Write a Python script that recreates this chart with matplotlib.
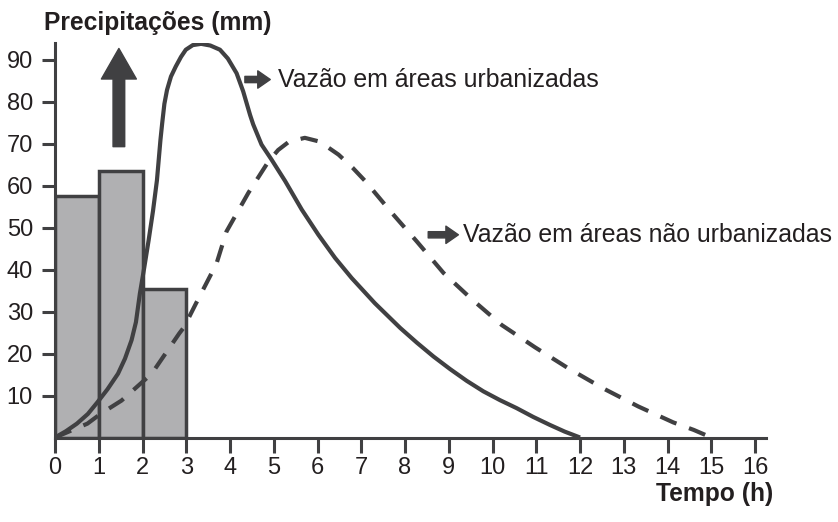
import numpy as np
import matplotlib.pyplot as plt

plt.rcParams['font.family'] = ['Liberation Sans', 'DejaVu Sans']

# Precipitation bars (mm), one per hour
barStart = [0, 1, 2]
barHeight = [57.5, 63.5, 35.5]

# Discharge in urbanised areas (solid)
tUrban = [0, 0.25, 0.5, 0.75, 0.97, 1.2, 1.44, 1.6, 1.75, 1.85, 1.94, 2.04, 2.14,
          2.24, 2.33, 2.41, 2.45, 2.5, 2.56, 2.65, 2.76, 2.88, 2.99, 3.15, 3.34,
          3.55, 3.77, 3.95, 4.15, 4.3, 4.46, 4.53, 4.72, 4.95, 5.26, 5.64, 6.02,
          6.4, 6.78, 7.31, 7.89, 8.27, 8.65, 9.03, 9.41, 9.79, 10.17, 10.55,
          10.93, 11.31, 11.65, 12.0]
qUrban = [0, 1.5, 3.3, 5.6, 8.4, 11.5, 15.2, 18.8, 23.2, 27.5, 34.3, 40.5, 47,
          54, 61.3, 70.9, 74.9, 79.5, 82.8, 86, 88.4, 90.7, 92.4, 93.5, 93.8,
          93.4, 92.4, 90.3, 86.8, 82.5, 76.8, 74.6, 69.8, 66.2, 61.1, 54.3, 48.3,
          42.8, 38.0, 32.0, 26.1, 22.6, 19.3, 16.3, 13.5, 11.0, 8.9, 7.0,
          4.9, 3.0, 1.4, 0]

# Discharge in non-urbanised areas (dashed)
tRural = [0, 0.74, 1.05, 1.52, 2.21, 2.84, 2.95, 3.22, 3.69, 3.92, 4.42, 4.88,
          5.1, 5.35, 5.71, 6.05, 6.48, 6.8, 7.09, 7.7, 8.27, 8.88, 9.52, 10.21,
          10.97, 11.73, 12.53, 13.33, 14.13, 14.6, 15.0]
qRural = [0, 3.3, 5.7, 8.8, 15.2, 24.8, 26.3, 31.9, 41.4, 49.1, 58.3, 65.8,
          68.5, 70.5, 71.4, 70.5, 67.4, 64.3, 61.1, 53.5, 46.7, 39.2, 33.0, 26.8,
          21.5, 16.5, 11.7, 7.4, 3.6, 1.8, 0]

xTicks = list(range(0, 17))
yTicks = list(range(10, 100, 10))

dark = '#404042'
txt = '#231f20'

fig = plt.figure(figsize=(8.38, 5.22), dpi=100)
ax = fig.add_axes([55 / 838, 1 - 437.5 / 522, (766 - 55) / 838, (437.5 - 43) / 522])

ax.bar(barStart, barHeight, width=1, align='edge', color='#b0b0b2',
       edgecolor=dark, linewidth=2.5, zorder=2)
ax.plot(tUrban, qUrban, color=dark, linewidth=3, zorder=3,
        solid_joinstyle='round', solid_capstyle='butt')
ax.plot(tRural, qRural, color=dark, linewidth=3, dashes=(4.2, 3.2), zorder=3,
        dash_joinstyle='round')

ax.set_xlim(0, 16.25)
ax.set_ylim(0, 94)
ax.set_xticks(xTicks)
ax.set_yticks(yTicks)
for s in ['top', 'right']:
    ax.spines[s].set_visible(False)
for s in ['left', 'bottom']:
    ax.spines[s].set_linewidth(2.2)
    ax.spines[s].set_color(dark)
ax.tick_params(axis='x', length=10.8, width=2.2, color=dark, pad=3.5,
               labelsize=17, labelcolor=txt)
ax.tick_params(axis='y', length=9.4, width=2.2, color=dark, pad=6.5,
               labelsize=17, labelcolor=txt)

# big upward arrow over the bars
ax.annotate('', xy=(1.46, 92.7), xytext=(1.46, 69.3),
            arrowprops=dict(arrowstyle='simple,head_length=1.1,head_width=1.26,tail_width=0.42',
                            color=dark, shrinkA=0, shrinkB=0, mutation_scale=20))

# small arrows + labels
sArrow = 'simple,head_length=0.9,head_width=1.25,tail_width=0.45'
ax.annotate('', xy=(4.92, 85.3), xytext=(4.34, 85.3),
            arrowprops=dict(arrowstyle=sArrow, color=dark, shrinkA=0, shrinkB=0,
                            mutation_scale=10))
ax.text(5.1, 85.3, 'Vazão em áreas urbanizadas', fontsize=17.9, color=txt,
        va='center', ha='left')
ax.annotate('', xy=(9.22, 48.3), xytext=(8.53, 48.3),
            arrowprops=dict(arrowstyle=sArrow, color=dark, shrinkA=0, shrinkB=0,
                            mutation_scale=10))
ax.text(9.33, 48.3, 'Vazão em áreas não urbanizadas', fontsize=17.9, color=txt,
        va='center', ha='left')

fig.text(44 / 838, 1 - 23 / 522, 'Precipitações (mm)', fontsize=17.7, weight='bold',
         color=txt, ha='left', va='center')
fig.text(773 / 838, 1 - 494 / 522, 'Tempo (h)', fontsize=17.7, weight='bold',
         color=txt, ha='right', va='center')

fig.savefig('out.png', dpi=100)
